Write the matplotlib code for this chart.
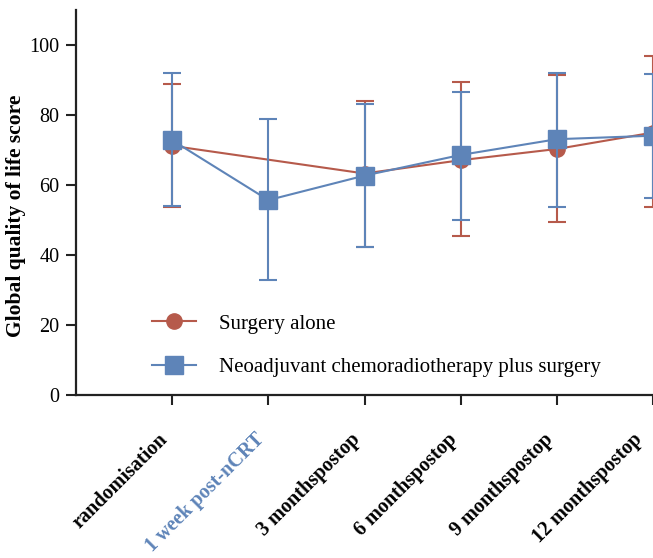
import numpy as np
import matplotlib
matplotlib.use("Agg")
import matplotlib.pyplot as plt
from matplotlib.lines import Line2D
from matplotlib.transforms import ScaledTranslation

# =========================
# DATA
# =========================
timepoints = ["randomisation", "1 week post-nCRT", "3 monthspostop",
              "6 monthspostop", "9 monthspostop", "12 monthspostop"]

# surgery alone (no measurement at 1 week post-nCRT)
surg_x = [0, 2, 3, 4, 5]
surg_mean = [71.2, 63.3, 67.1, 70.3, 75.0]
surg_low = [53.8, 42.3, 45.4, 49.4, 53.6]
surg_high = [88.9, 84.0, 89.5, 91.5, 96.9]

# neoadjuvant chemoradiotherapy plus surgery
ncrt_x = [0, 1, 2, 3, 4, 5]
ncrt_mean = [72.8, 55.7, 62.7, 68.6, 73.1, 74.1]
ncrt_low = [53.9, 33.0, 42.4, 50.1, 53.6, 56.2]
ncrt_high = [92.1, 79.0, 83.1, 86.7, 92.1, 91.6]

RED = "#B65A4B"
BLUE = "#5E84B8"
LW = 1.5

plt.rcParams['font.family'] = ['Liberation Serif', 'DejaVu Serif']

fig = plt.figure(figsize=(6.53, 5.58), dpi=100)
ax = fig.add_axes([0.1164, 0.292, 0.8836, 0.69])

sm = np.array(surg_mean)
nm = np.array(ncrt_mean)

ax.errorbar(surg_x, sm, yerr=[sm - np.array(surg_low), np.array(surg_high) - sm],
            color=RED, marker="o", markersize=11, lw=LW, elinewidth=LW,
            capsize=6.5, capthick=LW, zorder=2)
ax.errorbar(ncrt_x, nm, yerr=[nm - np.array(ncrt_low), np.array(ncrt_high) - nm],
            color=BLUE, marker="s", markersize=12.5, lw=LW, elinewidth=LW,
            capsize=6.5, capthick=LW, zorder=3)

ax.set_xlim(-1, 5)
ax.set_ylim(0, 110)
ax.set_yticks([0, 20, 40, 60, 80, 100])
ax.set_xticks(range(len(timepoints)))
ax.set_xticklabels(timepoints, rotation=45, ha="right", va="center",
                   rotation_mode="anchor", fontweight="bold", fontsize=14.5)
ax.get_xticklabels()[1].set_color(BLUE)
ax.tick_params(axis="both", direction="out", length=7, width=1.5, color="#222222")
ax.tick_params(axis="x", pad=23)
ax.tick_params(axis="y", labelsize=14.5, pad=5)

for s in ["top", "right"]:
    ax.spines[s].set_visible(False)
for s in ["left", "bottom"]:
    ax.spines[s].set_linewidth(1.6)
    ax.spines[s].set_color("#222222")

ax.set_ylabel("Global quality of life score", fontweight="bold", fontsize=15.5)
ax.yaxis.set_label_coords(-0.086, 0.465)

handles = [
    Line2D([], [], color=RED, marker="o", markersize=11, lw=LW),
    Line2D([], [], color=BLUE, marker="s", markersize=12.5, lw=LW),
]
labels = ["Surgery alone", "Neoadjuvant chemoradiotherapy plus surgery"]
ax.legend(handles, labels, loc="center left", bbox_to_anchor=(0.1317, 0.1286),
          frameon=False, fontsize=15, handlelength=2.1, labelspacing=1.15,
          handletextpad=1.1, borderpad=0, borderaxespad=0)

# nudge x labels a little left (last one more, so it stays inside the figure)
for i, tick in enumerate(ax.xaxis.get_major_ticks()):
    dx = -10 if i == len(timepoints) - 1 else -5
    lbl = tick.label1
    lbl.set_transform(lbl.get_transform() + ScaledTranslation(dx / 72, 0, fig.dpi_scale_trans))

fig.savefig("out.png", dpi=100)
